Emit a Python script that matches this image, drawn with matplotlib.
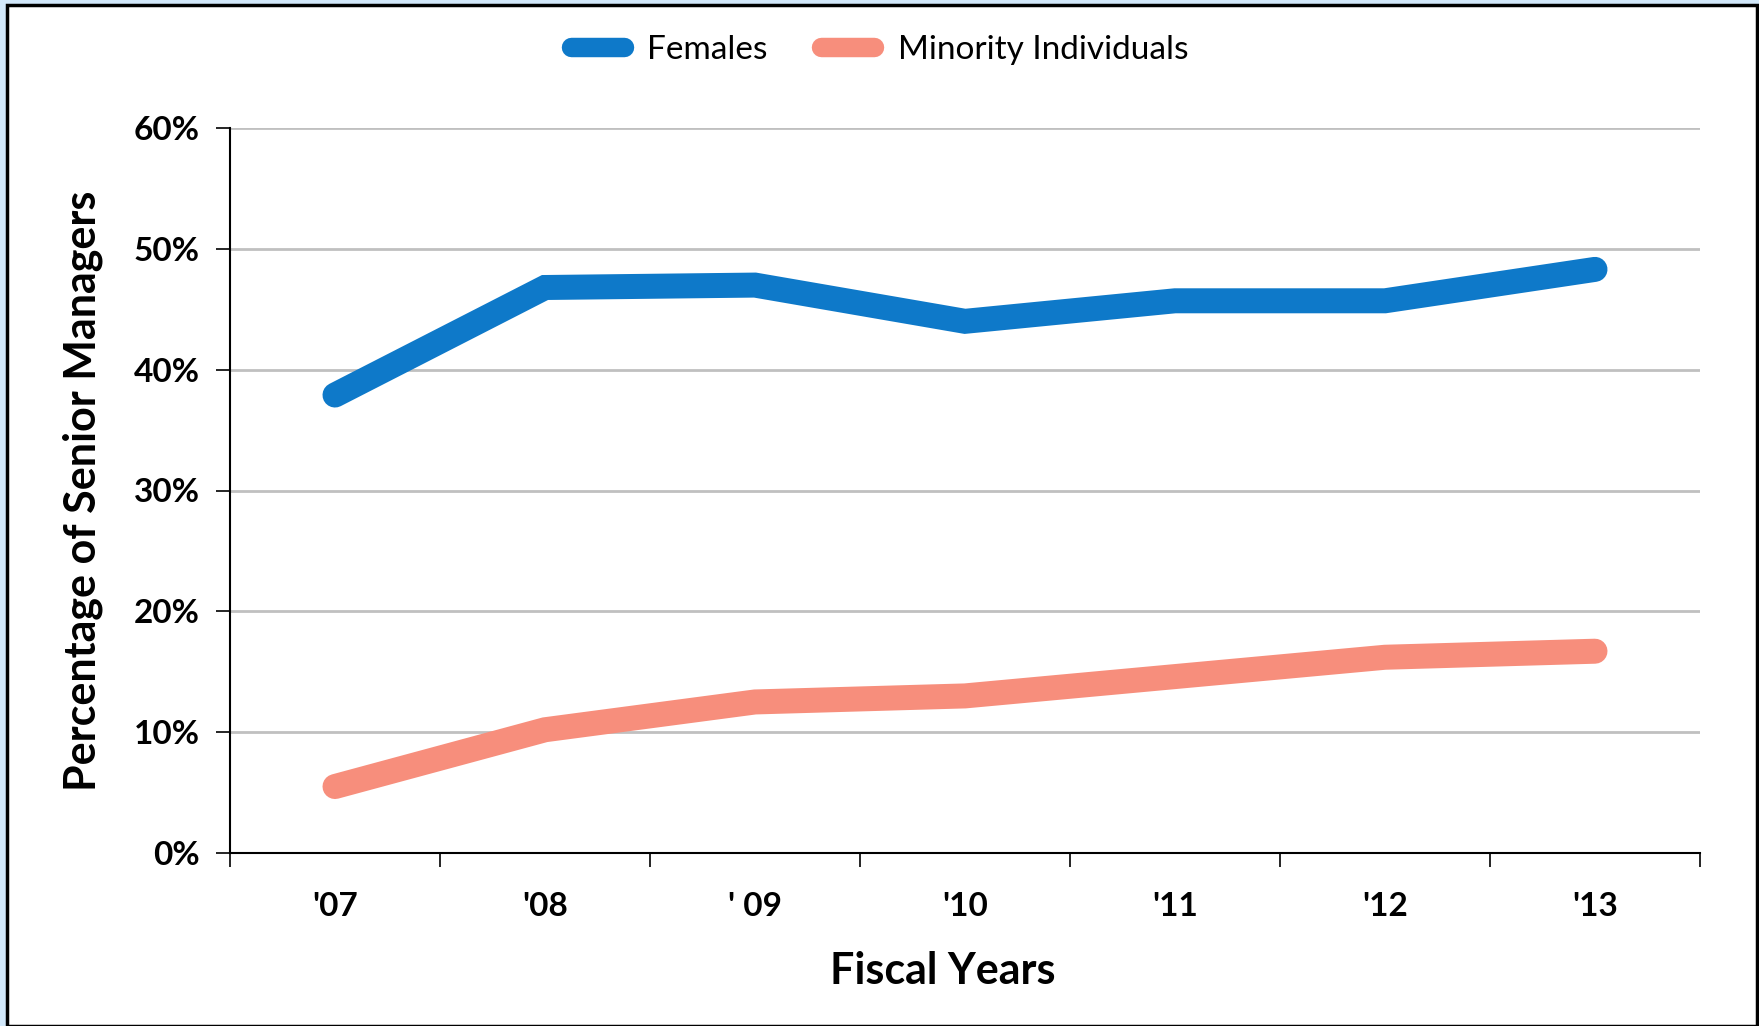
import matplotlib.pyplot as plt
from matplotlib.patches import Rectangle
from matplotlib.ticker import FixedLocator, PercentFormatter

years = ["'07", "'08", "' 09", "'10", "'11", "'12", "'13"]
females = [37.9, 46.8, 47.0, 44.0, 45.7, 45.7, 48.3]
minority = [5.5, 10.2, 12.5, 13.0, 14.6, 16.2, 16.7]

blue = "#0e79c9"
salmon = "#f78e7c"

fig = plt.figure(figsize=(17.59, 10.26), dpi=100)
fig.patch.set_facecolor("#d2e8fa")

# white panel with black frame
fig.add_artist(Rectangle((7 / 1759, 0.0), 1750 / 1759, 1 - 5 / 1026,
                         transform=fig.transFigure, facecolor="white",
                         edgecolor="black", linewidth=2.5, zorder=0))

ax = fig.add_axes([230 / 1759, 1 - 853 / 1026, 1470 / 1759, 725 / 1026])
ax.set_facecolor("none")

xs = [i + 0.5 for i in range(len(years))]
ax.plot(xs, females, color=blue, lw=18, solid_capstyle="round",
        solid_joinstyle="miter", label="Females", zorder=3)
ax.plot(xs, minority, color=salmon, lw=18, solid_capstyle="round",
        solid_joinstyle="miter", label="Minority Individuals", zorder=3)

ax.set_xlim(0, len(years))
ax.set_ylim(0, 60)
ax.set_yticks(range(0, 61, 10))
ax.yaxis.set_major_formatter(PercentFormatter(decimals=0))

ax.xaxis.set_major_locator(FixedLocator(range(len(years) + 1)))
ax.set_xticklabels([])
ax.xaxis.set_minor_locator(FixedLocator(xs))
ax.set_xticklabels(years, minor=True)
ax.tick_params(axis="x", which="minor", length=0, pad=28)
ax.tick_params(axis="x", which="major", length=10, width=1.2, direction="out")
ax.tick_params(axis="y", length=10, width=1.2, pad=12)

for lab in ax.get_yticklabels() + ax.get_xticklabels(minor=True):
    lab.set_fontfamily("Lato")
    lab.set_fontweight("bold")
    lab.set_fontsize(24)

ax.grid(axis="y", color="#c0c0c0", lw=2)
ax.set_axisbelow(True)
for s in ["top", "right"]:
    ax.spines[s].set_visible(False)
for s in ["left", "bottom"]:
    ax.spines[s].set_linewidth(1.5)

ax.set_xlabel("Fiscal Years", fontfamily="Lato", fontweight="bold",
              fontsize=31)
ax.xaxis.set_label_coords(0.485, -0.135)
ax.set_ylabel("Percentage of Senior Managers", fontfamily="Lato",
              fontweight="bold", fontsize=31, labelpad=22)

leg = fig.legend(loc="center", bbox_to_anchor=(0.5, 1 - 50 / 1026), ncol=2,
                 frameon=False, handlelength=1.6, handletextpad=0.7,
                 columnspacing=1.6, prop={"family": "Lato", "size": 24})
for h in leg.get_lines():
    h.set_linewidth(14)
    h.set_solid_capstyle("round")

fig.savefig("out.png", dpi=100, facecolor=fig.get_facecolor())
